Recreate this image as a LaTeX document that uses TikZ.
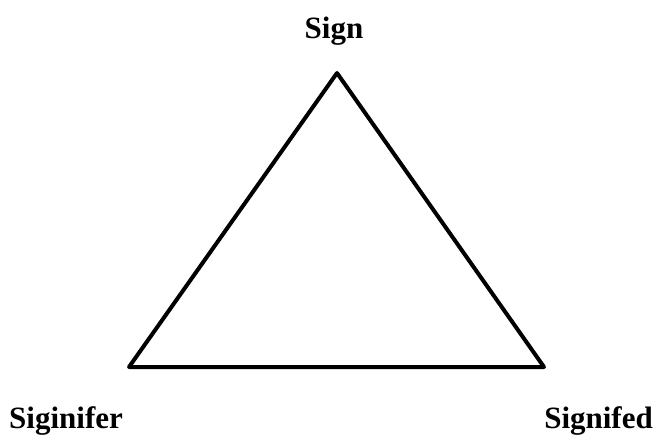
\documentclass[tikz,border=0pt]{standalone}
\usepackage{fontspec}
\setmainfont{Liberation Serif}
\begin{document}
\begin{tikzpicture}[x=1pt,y=-1pt,
  lbl/.style={font=\fontsize{31}{37}\selectfont\bfseries, inner sep=0pt},
  edge/.style={line width=4pt, line join=round}]
\useasboundingbox (0,0) rectangle (661,439);
\coordinate (top) at (337,73);
\coordinate (bl) at (129,367);
\coordinate (br) at (544,367);
\draw[edge] (top) -- (bl) -- (br) -- cycle;
\node[lbl, anchor=base] (sign) at (334,38) {Sign};
\node[lbl, anchor=base west] (sigr) at (9,428) {Siginifer};
\node[lbl, anchor=base east] (sigd) at (653,428) {Signifed};
\end{tikzpicture}
\end{document}
